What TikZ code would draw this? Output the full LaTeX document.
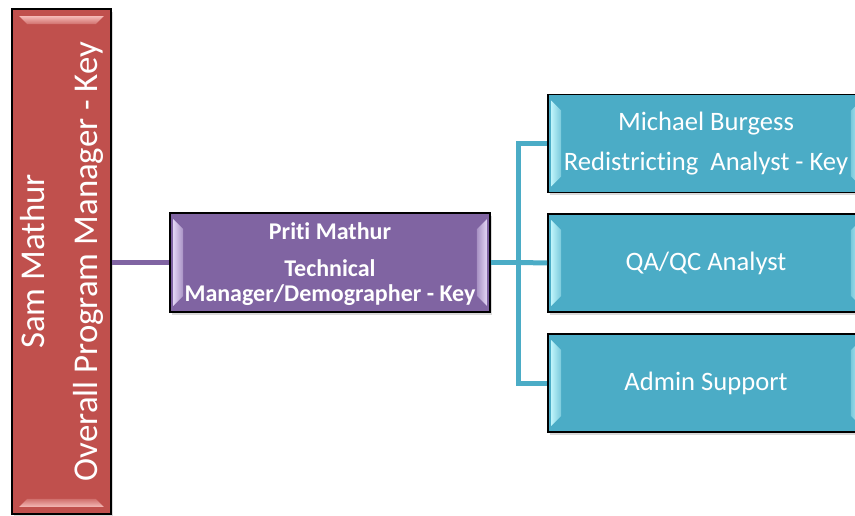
\documentclass[tikz,border=0pt]{standalone}
\usepackage{fontspec}
\setmainfont[Ligatures=NoCommon]{Carlito}
\usetikzlibrary{shadows,calc}
\definecolor{redbox}{HTML}{C0504D}
\definecolor{purplebox}{HTML}{8064A2}
\definecolor{bluebox}{HTML}{4BACC6}
\definecolor{redlite}{HTML}{F4B8B5}
\definecolor{purplelite}{HTML}{E2D4F4}
\definecolor{bluelite}{HTML}{BDF3FA}
\tikzset{
  box/.style={draw=black, line width=1.6pt, rectangle, inner sep=0pt, text=white,
    drop shadow={shadow xshift=2pt, shadow yshift=-3pt, opacity=0.3}},
  samboxstyle/.style={box, fill=redbox, minimum width=99pt, minimum height=505pt},
  pritistyle/.style={box, fill=purplebox, minimum width=320pt, minimum height=99pt},
  staffstyle/.style={box, fill=bluebox, minimum width=316pt, minimum height=98pt},
  stafftext/.style={text=white, align=center, inner sep=0pt,
    font=\fontsize{26.6}{40}\selectfont},
  purpleline/.style={draw=purplebox, line width=5pt},
  blueline/.style={draw=bluebox, line width=5pt},
}
\newcommand{\bevelLR}[3]{%
  \shade[left color=#2, right color=#3]
    ($(#1.north west)+(4,-7)$) -- ($(#1.north west)+(14,-17)$) --
    ($(#1.south west)+(14,17)$) -- ($(#1.south west)+(4,7)$) -- cycle;
  \shade[right color=#2, left color=#3]
    ($(#1.north east)+(-4,-7)$) -- ($(#1.north east)+(-14,-17)$) --
    ($(#1.south east)+(-14,17)$) -- ($(#1.south east)+(-4,7)$) -- cycle;
}
\newcommand{\bevelTB}[3]{%
  \shade[top color=#2, bottom color=#3]
    ($(#1.north west)+(8,-8)$) -- ($(#1.north east)+(-8,-8)$) --
    ($(#1.north east)+(-16,-16)$) -- ($(#1.north west)+(16,-16)$) -- cycle;
  \shade[bottom color=#2, top color=#3]
    ($(#1.south west)+(8,8)$) -- ($(#1.south east)+(-8,8)$) --
    ($(#1.south east)+(-16,16)$) -- ($(#1.south west)+(16,16)$) -- cycle;
}
\begin{document}
\begin{tikzpicture}[x=1pt, y=1pt]
  \useasboundingbox (0,0) rectangle (855,515);
  % boxes
  \node[samboxstyle] (sam) at (61.5,253.5) {};
  \bevelTB{sam}{redlite}{redbox!70!redlite}
  \node[rotate=90, text=white, align=center, inner sep=0pt,
        font=\fontsize{34.8}{53}\selectfont] (samtext) at (sam.center)
        {Sam Mathur\\Overall Program Manager - Key};

  \node[pritistyle] (priti) at (330,252.5) {};
  \bevelLR{priti}{purplelite}{purplebox!60!purplelite}
  \node[text=white, align=center, inner sep=0pt,
        font=\bfseries\fontsize{24}{25}\selectfont] (prititext)
        at ($(priti.center)+(0,-2)$)
        {Priti Mathur\\[12pt]Technical\\Manager/Demographer - Key};

  \node[staffstyle] (mb) at (706,371.5) {};
  \bevelLR{mb}{bluelite}{bluebox!60!bluelite}
  \node[stafftext] (mbtext) at (mb.center)
        {Michael Burgess\\Redistricting\ \ Analyst - Key};

  \node[staffstyle] (qa) at (706,252) {};
  \bevelLR{qa}{bluelite}{bluebox!60!bluelite}
  \node[stafftext] (qatext) at (qa.center) {QA/QC Analyst};

  \node[staffstyle] (adm) at (706,132) {};
  \bevelLR{adm}{bluelite}{bluebox!60!bluelite}
  \node[stafftext] (admtext) at (adm.center) {Admin Support};

  % connectors
  \draw[purpleline] (priti.west) -- (priti.west -| sam.east);
  \coordinate (junc) at ($(priti.east)+(28,0)$);
  \draw[blueline] (priti.east) -- (junc);
  \draw[blueline] (mb.west) -| (junc) |- (adm.west);
  \draw[blueline] (junc) -- (qa.west);
\end{tikzpicture}
\end{document}
